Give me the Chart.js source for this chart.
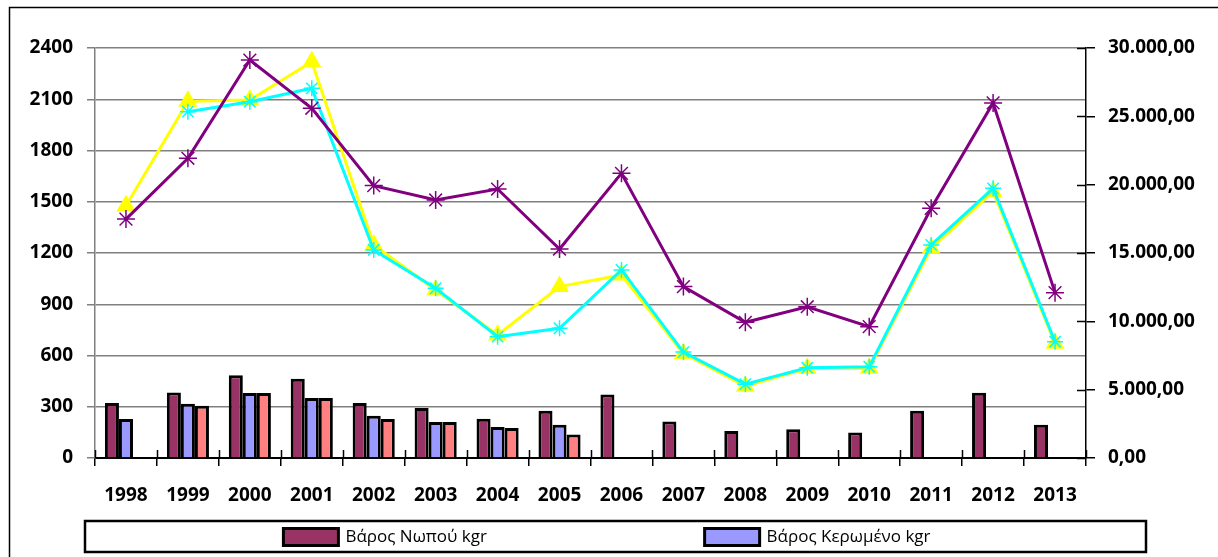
<!DOCTYPE html>
<html>
<head>
<meta charset="utf-8">
<script src="https://cdn.jsdelivr.net/npm/chart.js@4/dist/chart.umd.min.js"></script>
<style>
  html, body { margin: 0; padding: 0; background: #fff; }
  #wrap { width: 1218px; height: 557px; }
</style>
</head>
<body>
<div id="wrap"><canvas id="chart" width="1218" height="557"></canvas></div>
<script>
/*
** Data
*/
var years = ['1998', '1999', '2000', '2001', '2002', '2003', '2004', '2005',
             '2006', '2007', '2008', '2009', '2010', '2011', '2012', '2013'];

// bars, left axis (kgr)
var nwpou    = [322, 384, 484, 464, 322, 293, 230, 277, 372, 213, 158, 168, 150, 277, 382, 195];
var keromeno = [228, 318, 381, 351, 248, 211, 182, 195, null, null, null, null, null, null, null, null];
var tritoi   = [null, 306, 381, 351, 228, 211, 176, 137, null, null, null, null, null, null, null, null];

// lines, right axis
var grammiMov  = [17480, 21930, 29120, 25590, 19930, 18880, 19680, 15290, 20830, 12540, 9930, 11070, 9610, 18270, 25980, 12100];
var grammiKitr = [18450, 26100, 26200, 29000, 15590, 12290, 9000, 12540, 13390, 7650, 5250, 6560, 6560, 15340, 19490, 8390];
var grammiGal  = [null, 25340, 26070, 27050, 15220, 12420, 8880, 9490, 13760, 7750, 5400, 6600, 6680, 15590, 19730, 8510];

var leftTicks = [0, 300, 600, 900, 1200, 1500, 1800, 2100, 2400];
var rightTicks = [0, 5000, 10000, 15000, 20000, 25000, 30000];

var labelFont = { family: 'Open Sans', size: 19, weight: 'bold' };

/*
** Format 25000 -> "25.000,00"
*/
function grNumber(v) {
    var s = Math.round(v).toString().replace(/\B(?=(\d{3})+(?!\d))/g, '.');
    return s + ',00';
}

/*
** Outer frame, cross tick marks and the boxed legend under the chart
*/
var framePlugin = {
    id: 'frame',
    beforeDraw: function (chart) {
        var ctx = chart.ctx;
        ctx.save();
        ctx.strokeStyle = '#000';
        ctx.lineWidth = 1.5;
        ctx.beginPath();
        ctx.moveTo(9.5, chart.height + 5);
        ctx.lineTo(9.5, 7.5);
        ctx.lineTo(chart.width + 5, 7.5);
        ctx.stroke();
        ctx.restore();
    },
    afterDraw: function (chart) {
        var ctx = chart.ctx;
        var area = chart.chartArea;
        var xs = chart.scales.x, yr = chart.scales.y1;

        // inner halves of the cross ticks (x axis and right axis)
        ctx.save();
        ctx.strokeStyle = '#000';
        ctx.lineWidth = 1.5;
        ctx.beginPath();
        for (var i = 0; i <= years.length; i++) {
            var px = Math.round(xs.getPixelForValue(i - 0.5)) + 0.5;
            ctx.moveTo(px, area.bottom);
            ctx.lineTo(px, area.bottom - 8);
        }
        rightTicks.forEach(function (v) {
            var py = Math.round(yr.getPixelForValue(v)) + 0.5;
            ctx.moveTo(area.right, py);
            ctx.lineTo(area.right - 9, py);
        });
        ctx.stroke();
        ctx.restore();

        var box = { left: 85, top: 521, right: chart.width - 72, bottom: 552 };
        ctx.save();
        ctx.strokeStyle = '#000';
        ctx.lineWidth = 2.5;
        ctx.strokeRect(box.left, box.top, box.right - box.left, box.bottom - box.top);

        var slots = [0.187, 0.584];
        var midY = (box.top + box.bottom) / 2;
        ctx.font = '17px "Open Sans"';
        ctx.textBaseline = 'middle';
        ctx.textAlign = 'left';
        [0, 1].forEach(function (i) {
            var ds = chart.data.datasets[i];
            var x = box.left + slots[i] * (box.right - box.left);
            ctx.fillStyle = ds.backgroundColor;
            ctx.fillRect(x, midY - 8, 55, 17);
            ctx.lineWidth = 3;
            ctx.strokeStyle = '#000';
            ctx.strokeRect(x, midY - 8, 55, 17);
            ctx.fillStyle = '#000';
            ctx.fillText(ds.label, x + 62, midY + 1);
        });
        ctx.restore();
    }
};

var ctx = document.getElementById('chart').getContext('2d');

var chart = new Chart(ctx, {
    type: 'bar',
    data: {
        labels: years,
        datasets: [
            {
                label: 'Βάρος Νωπού kgr',
                data: nwpou,
                backgroundColor: '#993366',
                borderColor: '#000',
                borderWidth: 3,
                yAxisID: 'y',
                order: 4
            },
            {
                label: 'Βάρος Κερωμένο kgr',
                data: keromeno,
                backgroundColor: '#9999FF',
                borderColor: '#000',
                borderWidth: 3,
                yAxisID: 'y',
                order: 5
            },
            {
                label: 'Σειρά 3',
                data: tritoi,
                backgroundColor: '#FF8080',
                borderColor: '#000',
                borderWidth: 3,
                yAxisID: 'y',
                order: 6
            },
            {
                type: 'line',
                label: 'Σειρά 4',
                data: grammiMov,
                borderColor: '#800080',
                borderWidth: 3,
                pointStyle: 'star',
                pointRadius: 9,
                pointBorderColor: '#800080',
                pointBorderWidth: 1.5,
                tension: 0,
                yAxisID: 'y1',
                order: 1
            },
            {
                type: 'line',
                label: 'Σειρά 5',
                data: grammiKitr,
                borderColor: '#FFFF00',
                borderWidth: 3,
                pointStyle: 'triangle',
                pointRadius: 8,
                pointBackgroundColor: '#FFFF00',
                pointBorderColor: '#FFFF00',
                tension: 0,
                yAxisID: 'y1',
                order: 3
            },
            {
                type: 'line',
                label: 'Σειρά 6',
                data: grammiGal,
                borderColor: '#00FFFF',
                borderWidth: 3,
                pointStyle: 'star',
                pointRadius: 8,
                pointBorderColor: '#00FFFF',
                pointBorderWidth: 1.5,
                tension: 0,
                yAxisID: 'y1',
                order: 2
            }
        ]
    },
    options: {
        responsive: false,
        animation: false,
        layout: { padding: { top: 48, bottom: 39, left: 0, right: 0 } },
        datasets: {
            bar: { categoryPercentage: 0.68, barPercentage: 1.0 }
        },
        plugins: {
            legend: { display: false },
            tooltip: { enabled: false }
        },
        scales: {
            x: {
                offset: true,
                grid: { drawOnChartArea: false, color: '#000', tickLength: 8, lineWidth: 1.5 },
                border: { color: '#000', width: 2 },
                ticks: { color: '#000', font: labelFont, padding: 18, maxRotation: 0 },
                afterFit: function (scale) { scale.height = 60; }
            },
            y: {
                position: 'left',
                min: 0,
                max: 2400,
                afterBuildTicks: function (scale) {
                    scale.ticks = leftTicks.map(function (v) { return { value: v }; });
                },
                grid: { color: '#808080', lineWidth: 1.5, tickLength: 8 },
                border: { color: '#808080', width: 1.5 },
                ticks: {
                    color: '#000',
                    font: labelFont,
                    padding: 14,
                    callback: function (v) { return String(v); }
                },
                afterFit: function (scale) { scale.width = 95; }
            },
            y1: {
                position: 'right',
                min: 0,
                max: 30000,
                afterBuildTicks: function (scale) {
                    scale.ticks = rightTicks.map(function (v) { return { value: v }; });
                },
                grid: { drawOnChartArea: false, color: '#000', lineWidth: 1.5, tickLength: 9 },
                border: { color: '#000', width: 1.5 },
                ticks: {
                    color: '#000',
                    font: labelFont,
                    padding: 13,
                    callback: function (v) { return grNumber(v); }
                },
                afterFit: function (scale) { scale.width = 132; }
            }
        }
    },
    plugins: [framePlugin]
});
</script>
</body>
</html>
